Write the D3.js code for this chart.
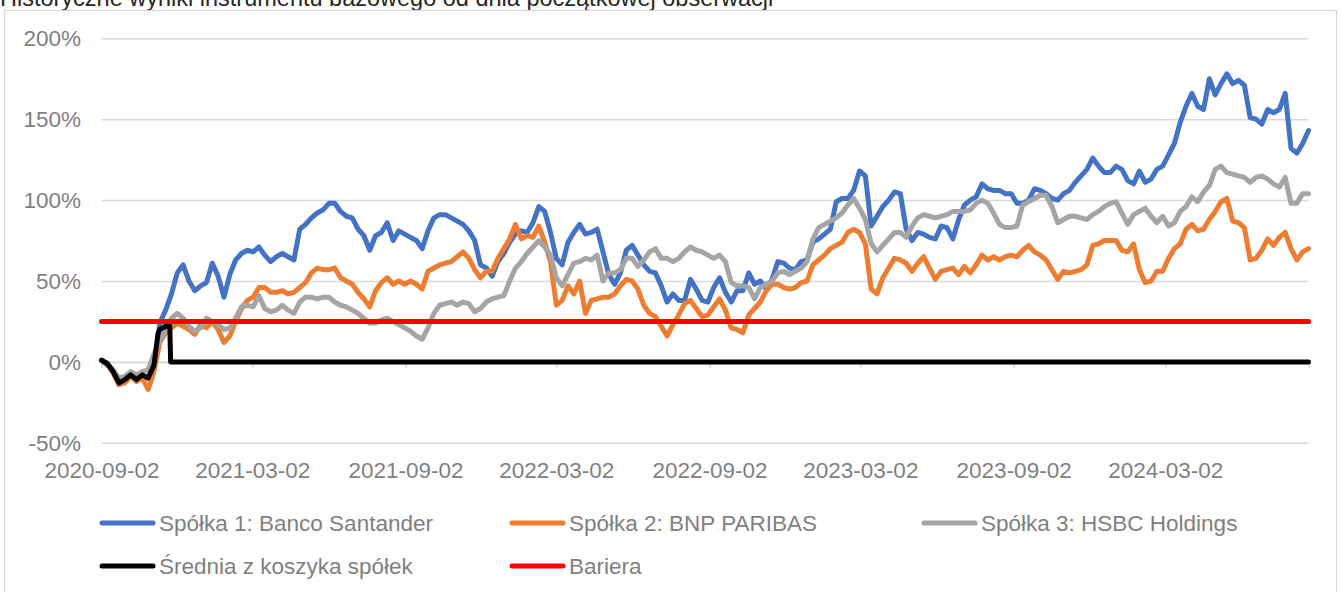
<!DOCTYPE html>
<html><head><meta charset="utf-8">
<script src="https://cdn.jsdelivr.net/npm/d3@7"></script>
<style>
html,body{margin:0;padding:0;background:#fff;overflow:hidden;}
svg{display:block;}
text{font-family:"Liberation Sans", Arial, sans-serif;}
</style></head><body>
<svg id="chart" width="1341" height="592"></svg>
<script>
const titleText = "Historyczne wyniki instrumentu bazowego od dnia początkowej obserwacji";
const startDate = "2020-09-02";
const stepDays = 7;

const santander = [
 1, -2, -6, -14, -12, -8, -12, -8, -10, -5,
 24, 32, 42, 55, 60, 50, 44, 47, 49, 61,
 53, 40, 54, 63, 67, 69, 68, 71, 66, 62,
 65, 67, 65, 63, 82, 85, 89, 92, 94, 98,
 98, 93, 90, 89, 82, 78, 69, 78, 80, 86,
 75, 81, 79, 77, 75, 70, 81, 89, 91, 91,
 89, 87, 85, 81, 75, 60, 58, 53, 62, 67,
 74, 79, 81, 80, 86, 96, 93, 80, 64, 60,
 74, 80, 85, 79, 80, 82, 68, 54, 48, 55,
 69, 72, 66, 60, 56, 55, 47, 37, 42, 38,
 38, 51, 45, 38, 37, 46, 52, 43, 37, 44,
 44, 55, 48, 50, 45, 51, 62, 61, 58, 57,
 62, 63, 74, 76, 79, 82, 99, 101, 101, 106,
 118, 115, 84, 90, 96, 100, 105, 104, 82, 75,
 80, 79, 77, 76, 84, 83, 76, 88, 97, 100,
 102, 110, 107, 106, 106, 104, 104, 98, 98, 100,
 107, 106, 104, 101, 100, 104, 106, 111, 115, 119,
 126, 121, 117, 117, 121, 119, 112, 110, 118, 111,
 113, 119, 121, 128, 135, 148, 158, 166, 158, 156,
 175, 165, 172, 178, 172, 174, 171, 151, 150, 147,
 156, 154, 156, 166, 132, 129, 135, 143
];
const bnp = [
 1, -1, -7, -14, -13, -9, -12, -10, -17, -6,
 12, 18, 21, 24, 22, 20, 17, 23, 21, 25,
 20, 12, 16, 25, 33, 38, 40, 46, 46, 43,
 43, 44, 42, 43, 46, 49, 55, 58, 57, 57,
 58, 52, 50, 48, 43, 39, 34, 44, 49, 52,
 48, 50, 48, 50, 48, 45, 56, 58, 60, 61,
 62, 65, 68, 64, 57, 52, 56, 56, 64, 70,
 76, 85, 76, 78, 77, 84, 74, 62, 35, 38,
 47, 42, 50, 30, 38, 39, 40, 40, 42, 47,
 51, 50, 45, 35, 30, 28, 22, 16, 23, 29,
 36, 38, 33, 28, 29, 34, 39, 32, 21, 20,
 18, 29, 33, 37, 44, 48, 48, 46, 45, 46,
 49, 50, 60, 63, 66, 70, 72, 74, 80, 82,
 80, 73, 45, 42, 52, 58, 64, 63, 61, 56,
 61, 65, 58, 51, 56, 57, 58, 54, 59, 55,
 60, 66, 63, 65, 63, 65, 66, 65, 69, 72,
 68, 66, 63, 57, 51, 56, 55, 56, 57, 60,
 72, 73, 75, 75, 75, 69, 68, 73, 57, 49,
 50, 56, 56, 64, 70, 73, 82, 85, 81, 82,
 88, 93, 99, 101, 87, 86, 83, 63, 64, 69,
 76, 72, 77, 80, 70, 63, 68, 70
];
const hsbc = [
 1, -1, -5, -10, -9, -6, -8, -6, -5, 5,
 13, 20, 27, 30, 27, 22, 19, 21, 27, 25,
 23, 20, 21, 27, 34, 35, 34, 41, 33, 31,
 32, 35, 32, 30, 37, 40, 40, 39, 40, 40,
 37, 35, 34, 32, 30, 27, 24, 24, 26, 27,
 25, 23, 21, 19, 16, 14, 21, 30, 35, 36,
 37, 35, 37, 36, 31, 33, 37, 39, 40, 41,
 50, 58, 62, 67, 71, 75, 71, 66, 52, 47,
 54, 61, 62, 64, 63, 66, 50, 55, 55, 57,
 64, 64, 59, 63, 68, 70, 64, 64, 62, 64,
 68, 71, 69, 68, 66, 64, 66, 62, 49, 47,
 47, 46, 39, 46, 48, 50, 55, 56, 54, 56,
 58, 62, 76, 83, 85, 87, 89, 92, 97, 101,
 95, 88, 73, 68, 72, 76, 80, 80, 77, 84,
 89, 91, 90, 89, 90, 91, 93, 93, 93, 94,
 98, 100, 98, 92, 85, 83, 83, 84, 97, 99,
 101, 103, 103, 96, 86, 88, 90, 90, 89, 88,
 91, 93, 96, 98, 99, 92, 85, 91, 93, 95,
 90, 86, 90, 84, 86, 93, 96, 102, 99, 105,
 109, 119, 121, 117, 116, 115, 114, 111, 114, 115,
 113, 110, 108, 114, 98, 98, 104, 104
];
const avgDates = ["2020-09-02","2020-09-09","2020-09-16","2020-09-23","2020-09-30","2020-10-07",
 "2020-10-14","2020-10-21","2020-10-28","2020-11-04","2020-11-09","2020-11-11","2020-11-18",
 "2020-11-23","2020-11-24","2024-08-21"];
const avgValues = [1, -1, -6, -13, -11, -8, -11, -8, -10, -2, 18, 20, 22, 22, 0, 0];
const barrierLevel = 25;

const yTicks = [-50, 0, 50, 100, 150, 200];
const xTickLabels = ["2020-09-02","2021-03-02","2021-09-02","2022-03-02","2022-09-02","2023-03-02","2023-09-02","2024-03-02"];
const seriesNames = ["Spółka 1: Banco Santander","Spółka 2: BNP PARIBAS","Spółka 3: HSBC Holdings","Średnia z koszyka spółek","Bariera"];
const seriesColors = ["#4472C4","#ED7D31","#A5A5A5","#000000","#FF0000"];

const parse = d3.timeParse("%Y-%m-%d");
const t0 = parse(startDate);
const dates = santander.map((_, i) => d3.timeDay.offset(t0, i * stepDays));
const tEnd = dates[dates.length - 1];

const svg = d3.select("#chart");
const X0 = 101.5, X1 = 1308.5;
const x = d3.scaleTime().domain([t0, tEnd]).range([X0, X1]);
const y = d3.scaleLinear().domain([-50, 200]).range([442.8, 38.3]);

// title (partly cropped at top, as in the reference)
svg.append("text").attr("x", 0).attr("y", 6).attr("font-size", 23.5).attr("fill", "#262626").text(titleText);

// chart border
svg.append("rect").attr("x", 4.5).attr("y", 10.5).attr("width", 1332).attr("height", 620)
  .attr("fill", "none").attr("stroke", "#d9d9d9").attr("stroke-width", 1.2);

// gridlines + y labels
const gy = svg.append("g").attr("transform", `translate(${X0},0)`)
  .call(d3.axisLeft(y).tickValues(yTicks).tickSize(-(X1 - X0)).tickPadding(20.5).tickFormat(d => d + "%"));
gy.select(".domain").remove();
gy.selectAll(".tick line").attr("stroke", "#d9d9d9").attr("stroke-width", 1.5);
gy.selectAll(".tick text").attr("fill", "#7f7f7f").attr("font-size", 22.5).attr("font-family", "Liberation Sans, Arial, sans-serif").attr("dy", "0.34em");

// horizontal axis at 0 with tick marks
const gx = svg.append("g").attr("transform", `translate(0,${y(0)})`)
  .call(d3.axisBottom(x).tickValues(xTickLabels.map(parse)).tickSize(6).tickFormat(""));
gx.select(".domain").attr("stroke", "#d9d9d9").attr("stroke-width", 1.5);
gx.selectAll(".tick line").attr("stroke", "#d9d9d9").attr("stroke-width", 1.5);

// date labels at bottom
const gl = svg.append("g").attr("transform", `translate(0,442.8)`)
  .call(d3.axisBottom(x).tickValues(xTickLabels.map(parse)).tickSize(0).tickPadding(19.5).tickFormat(d3.timeFormat("%Y-%m-%d")));
gl.select(".domain").remove();
gl.selectAll(".tick text").attr("fill", "#7f7f7f").attr("font-size", 22.5).attr("font-family", "Liberation Sans, Arial, sans-serif");

// series
const line = d3.line().x(d => x(d.date)).y(d => y(d.v));
const mk = arr => arr.map((v, i) => ({date: dates[i], v}));
const seriesData = [
  mk(santander), mk(bnp), mk(hsbc),
  avgDates.map((d, i) => ({date: parse(d), v: avgValues[i]})),
  [{date: t0, v: barrierLevel}, {date: tEnd, v: barrierLevel}]
];
const widths = [5, 5, 5, 5, 5];
seriesData.forEach((s, k) => {
  svg.append("path").datum(s).attr("d", line).attr("fill", "none")
    .attr("stroke", seriesColors[k]).attr("stroke-width", widths[k])
    .attr("stroke-linejoin", "round").attr("stroke-linecap", "round");
});

// legend
const legPos = [[100, 523], [510, 523], [922, 523], [100, 566], [510, 566]];
const leg = svg.append("g");
seriesNames.forEach((name, k) => {
  const [lx, ly] = legPos[k];
  leg.append("line").attr("x1", lx + 2).attr("x2", lx + 53).attr("y1", ly).attr("y2", ly)
    .attr("stroke", seriesColors[k]).attr("stroke-width", 5).attr("stroke-linecap", "round");
  leg.append("text").attr("x", lx + 59).attr("y", ly + 8).attr("font-size", 22.5).attr("fill", "#7f7f7f").text(name);
});
</script>
</body></html>
